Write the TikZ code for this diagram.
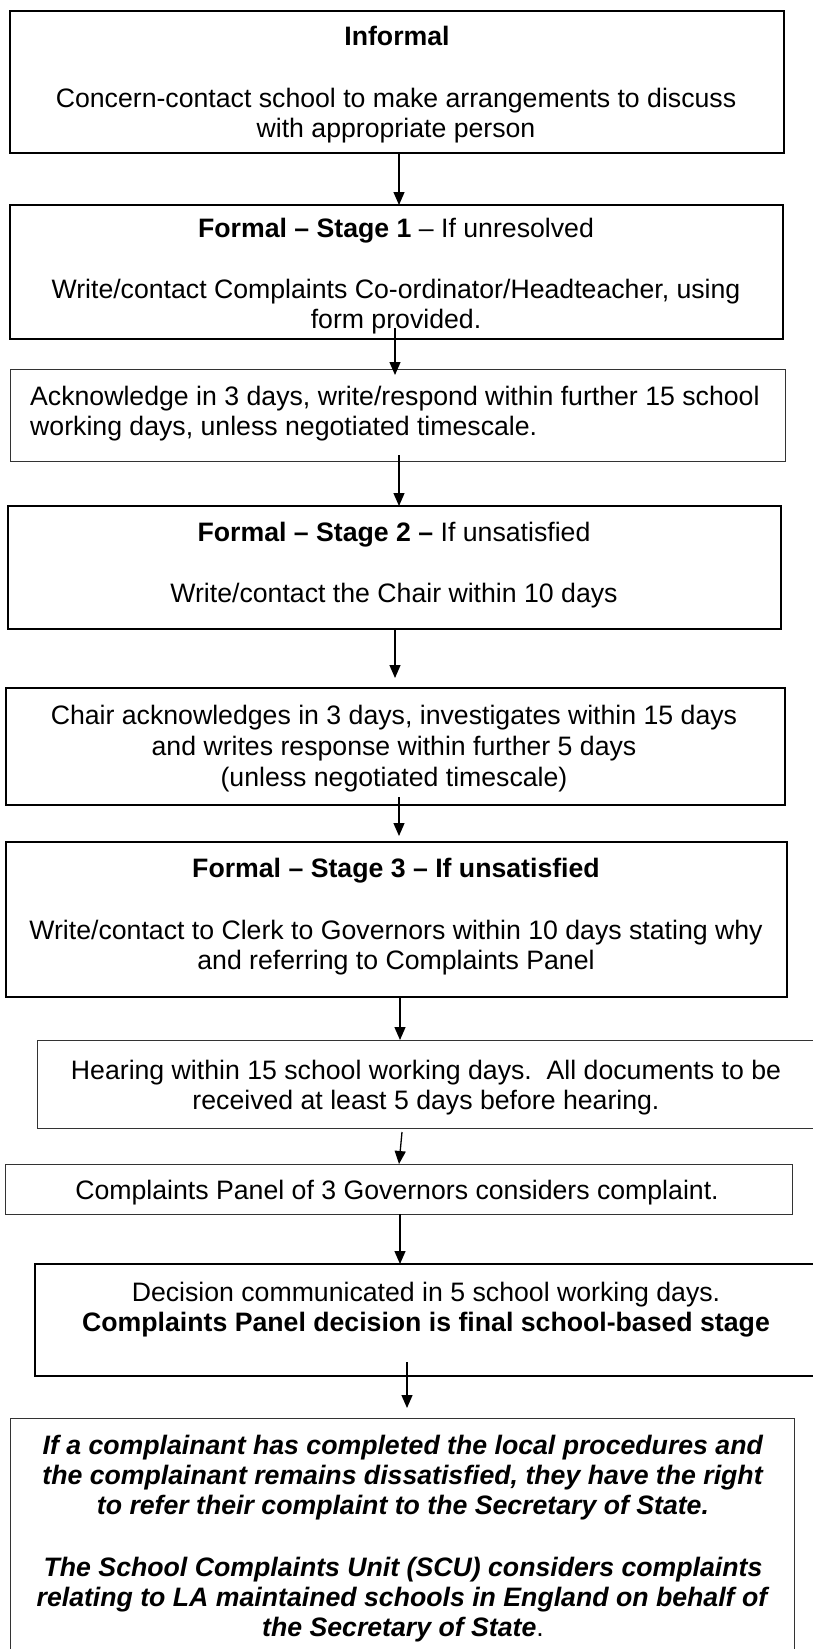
\documentclass[tikz,border=0pt]{standalone}
\usepackage{fontspec}
\setmainfont{Liberation Sans}
\usetikzlibrary{arrows.meta}
\tikzset{
  thickbox/.style={draw=black, line width=2pt, inner sep=0pt, outer sep=0pt, anchor=north west},
  thinbox/.style={draw=black!80, line width=1pt, inner sep=0pt, outer sep=0pt, anchor=north west},
  txt/.style={font=\fontsize{26.67pt}{30.67pt}\selectfont, inner sep=0pt, anchor=base},
  txtl/.style={txt, anchor=base west},
  arr/.style={-{Triangle[length=13pt,width=11pt]}, line width=1.3pt, draw=black}
}
\begin{document}
\begin{tikzpicture}[x=1pt,y=-1pt]
\useasboundingbox (0,0) rectangle (813,1649);
\fill[white] (0,0) rectangle (813,1649);
% boxes
\node[thickbox, minimum width=774pt, minimum height=142pt] (b1) at (10,11) {};
\node[thickbox, minimum width=773pt, minimum height=134pt] (b2) at (10,205) {};
\node[thinbox,  minimum width=775pt, minimum height=92pt]  (b3) at (10,369) {};
\node[thickbox, minimum width=773pt, minimum height=123pt] (b4) at (8,506) {};
\node[thickbox, minimum width=779pt, minimum height=117pt] (b5) at (6,688) {};
\node[thickbox, minimum width=781pt, minimum height=155pt] (b6) at (6,842) {};
\node[thinbox,  minimum width=793pt, minimum height=88pt]  (b7) at (37,1040) {};
\node[thinbox,  minimum width=787pt, minimum height=50pt]  (b8) at (5,1164) {};
\node[thickbox, minimum width=795pt, minimum height=112pt] (b9) at (35,1264) {};
\node[thinbox,  minimum width=784pt, minimum height=252pt] (b10) at (10,1418) {};
% texts
\node[txt] (t1a) at (397,45) {\textbf{Informal}};
\node[txt] (t1b) at (396,107) {Concern-contact school to make arrangements to discuss};
\node[txt] (t1c) at (396,137) {with appropriate person};
\node[txt] (t2a) at (396,237) {\textbf{Formal – Stage 1} – If unresolved};
\node[txt] (t2b) at (396,298) {Write/contact Complaints Co-ordinator/Headteacher, using};
\node[txt] (t2c) at (396,328) {form provided.};
\node[txtl] (t3a) at (30,405) {Acknowledge in 3 days, write/respond within further 15 school};
\node[txtl] (t3b) at (30,435) {working days, unless negotiated timescale.};
\node[txt] (t4a) at (394,541) {\textbf{Formal – Stage 2 –} If unsatisfied};
\node[txt] (t4b) at (394,602) {Write/contact the Chair within 10 days};
\node[txt] (t5a) at (394,724) {Chair acknowledges in 3 days, investigates within 15 days};
\node[txt] (t5b) at (394,755) {and writes response within further 5 days};
\node[txt] (t5c) at (394,786) {(unless negotiated timescale)};
\node[txt] (t6a) at (396,877) {\textbf{Formal – Stage 3 – If unsatisfied}};
\node[txt] (t6b) at (396,939) {Write/contact to Clerk to Governors within 10 days stating why};
\node[txt] (t6c) at (396,969) {and referring to Complaints Panel};
\node[txt] (t7a) at (426,1079) {Hearing within 15 school working days.\ \ All documents to be};
\node[txt] (t7b) at (426,1109) {received at least 5 days before hearing.};
\node[txt] (t8a) at (397,1199) {Complaints Panel of 3 Governors considers complaint.};
\node[txt] (t9a) at (426,1301) {Decision communicated in 5 school working days.};
\node[txt] (t9b) at (426,1331) {\textbf{Complaints Panel decision is final school-based stage}};
\node[txt] (t10a) at (403,1454) {\textbf{\itshape If a complainant has completed the local procedures and}};
\node[txt] (t10b) at (403,1484) {\textbf{\itshape the complainant remains dissatisfied, they have the right}};
\node[txt] (t10c) at (403,1514) {\textbf{\itshape to refer their complaint to the Secretary of State.}};
\node[txt] (t10d) at (403,1576) {\textbf{\itshape The School Complaints Unit (SCU) considers complaints}};
\node[txt] (t10e) at (403,1606) {\textbf{\itshape relating to LA maintained schools in England on behalf of}};
\node[txt] (t10f) at (403,1636) {\textbf{\itshape the Secretary of State}.};
% arrow coordinates
\coordinate (x1) at (399,0);
\coordinate (a2s) at (395,328);
\coordinate (a2e) at (395,375);
\coordinate (a3s) at (399,455);
\coordinate (x4) at (395,0);
\coordinate (a4e) at (395,678);
\coordinate (a5s) at (399,797);
\coordinate (a5e) at (399,836);
\coordinate (x6) at (400,0);
\coordinate (a7s) at (402,1132);
\coordinate (x7) at (399,0);
\coordinate (a9s) at (407,1362);
\coordinate (a9e) at (407,1408);
% arrows
\draw[arr] (b1.south -| x1) -- (b2.north -| x1);
\draw[arr] (a2s) -- (a2e);
\draw[arr] (a3s) -- (b4.north -| a3s);
\draw[arr] (b4.south -| x4) -- (a4e);
\draw[arr] (a5s) -- (a5e);
\draw[arr] (b6.south -| x6) -- (b7.north -| x6);
\draw[arr] (a7s) -- (b8.north -| x7);
\draw[arr] (b8.south -| x6) -- (b9.north -| x6);
\draw[arr] (a9s) -- (a9e);
\end{tikzpicture}
\end{document}
